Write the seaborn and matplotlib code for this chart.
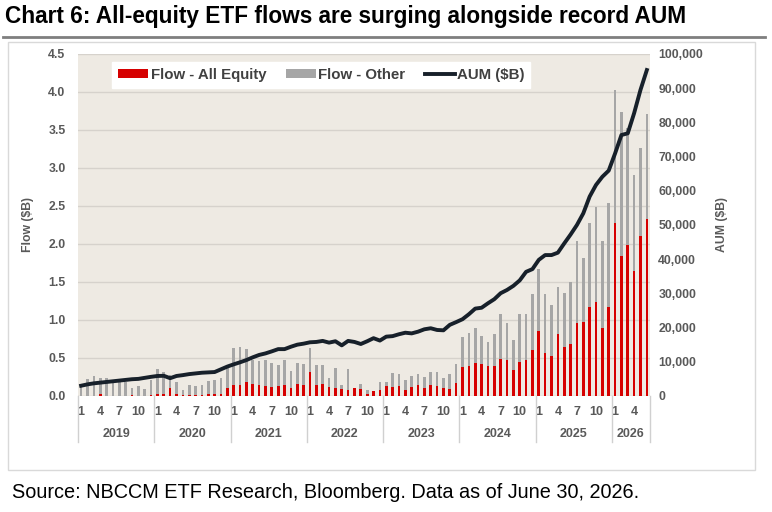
import numpy as np
import pandas as pd
import seaborn as sns
import matplotlib.pyplot as plt
from matplotlib.patches import Patch, Rectangle
from matplotlib.lines import Line2D
import matplotlib.transforms as mtransforms

# monthly data, Jan 2019 - Jun 2026
years = [2019, 2020, 2021, 2022, 2023, 2024, 2025, 2026]
month_labels = [1, 4, 7, 10]

# top of the stacked bar (all equity + other), $B
flow_total = [
    0.12, 0.22, 0.26, 0.23, 0.23, 0.18, 0.18, 0.19, 0.11, 0.13, 0.09, 0.21,
    0.36, 0.31, 0.27, 0.18, 0.08, 0.14, 0.13, 0.14, 0.20, 0.21, 0.24, 0.41,
    0.63, 0.65, 0.62, 0.47, 0.46, 0.47, 0.44, 0.41, 0.47, 0.33, 0.43, 0.42,
    0.63, 0.41, 0.41, 0.24, 0.37, 0.14, 0.35, 0.10, 0.16, 0.08, 0.07, 0.19,
    0.18, 0.30, 0.29, 0.21, 0.26, 0.29, 0.25, 0.31, 0.31, 0.24, 0.29, 0.42,
    0.78, 0.83, 0.89, 0.79, 0.71, 0.81, 1.08, 0.96, 0.73, 1.08, 1.08, 1.34,
    1.67, 1.34, 1.20, 1.44, 1.36, 1.50, 2.04, 1.82, 2.27, 2.49, 2.04, 2.54,
    4.02, 3.73, 3.53, 2.91, 3.26, 3.71,
]
flow_equity = [
    0.00, 0.00, 0.00, 0.02, 0.00, 0.00, 0.00, 0.00, 0.01, 0.00, 0.00, 0.01,
    0.03, 0.02, 0.10, 0.02, 0.01, 0.01, 0.01, 0.01, 0.02, 0.02, 0.03, 0.10,
    0.14, 0.14, 0.18, 0.16, 0.14, 0.13, 0.12, 0.13, 0.14, 0.10, 0.16, 0.14,
    0.31, 0.15, 0.16, 0.12, 0.11, 0.09, 0.08, 0.10, 0.09, 0.02, 0.07, 0.08,
    0.13, 0.12, 0.13, 0.08, 0.12, 0.14, 0.10, 0.14, 0.13, 0.10, 0.09, 0.17,
    0.38, 0.39, 0.44, 0.42, 0.39, 0.40, 0.49, 0.47, 0.34, 0.45, 0.47, 0.60,
    0.85, 0.57, 0.52, 0.81, 0.65, 0.69, 0.96, 0.97, 1.17, 1.23, 0.90, 1.17,
    2.28, 1.84, 1.99, 1.64, 2.10, 2.33,
]
aum = [
    3000, 3400, 3700, 3900, 4100, 4300, 4500, 4700, 4900, 5000, 5300, 5600,
    5850, 5900, 5200, 5850, 6100, 6400, 6600, 6800, 6900, 7000, 7800, 8600,
    9250, 9850, 10500, 11300, 12000, 12450, 13050, 13700, 13700, 14400, 15000, 15300,
    15700, 15800, 16100, 15600, 16000, 14800, 16100, 15800, 15200, 16000, 16900, 16200,
    17350, 17500, 18050, 18500, 18300, 18800, 19500, 19800, 19300, 19200, 20800, 21600,
    22450, 23900, 25550, 25800, 27100, 28300, 30050, 31000, 32200, 33800, 36300, 37100,
    39800, 41200, 41200, 41900, 44600, 47200, 50000, 53400, 58300, 61700, 64100, 65900,
    70900, 76300, 76800, 82700, 89500, 95300,
]

n = len(flow_total)
months = [(i % 12) + 1 for i in range(n)]
df = pd.DataFrame({"idx": range(n), "month": months, "total": flow_total,
                   "equity": flow_equity, "aum": aum})

RED = "#D60000"
GRAY = "#A6A6A6"
LINE = "#17202A"
TXT = "#595959"

plt.rcParams["font.family"] = ["Liberation Sans", "DejaVu Sans"]

fig = plt.figure(figsize=(7.72, 5.12), dpi=100)
ax = fig.add_axes([0.101, 0.2266, 0.741, 0.668])
ax.set_facecolor("#EEEAE3")

sns.barplot(data=df, x="idx", y="total", color=GRAY, saturation=1, width=0.42, ax=ax)
sns.barplot(data=df, x="idx", y="equity", color=RED, saturation=1, width=0.42, ax=ax)

ax2 = ax.twinx()
sns.lineplot(data=df, x="idx", y="aum", color=LINE, lw=2.8, ax=ax2)

ax.set_xlim(-0.5, n - 0.5)
ax.set_ylim(0, 4.5)
ax.set_yticks(np.arange(0, 4.51, 0.5))
ax.set_yticklabels([f"{v:.1f}" for v in np.arange(0, 4.51, 0.5)])
ax2.set_ylim(0, 100000)
ax2.set_yticks(range(0, 100001, 10000))
ax2.set_yticklabels([f"{v:,}" for v in range(0, 100001, 10000)])

ax.yaxis.grid(True, color="#D6D2CC", lw=1)
ax.set_axisbelow(True)
for a in (ax, ax2):
    for s in a.spines.values():
        s.set_visible(False)
    a.tick_params(axis="y", length=0, labelsize=8.8, labelcolor=TXT)

tick_pos = [i for i in range(n) if months[i] in month_labels]
ax.set_xticks(tick_pos)
ax.set_xticklabels([str(months[i]) for i in tick_pos])
ax.tick_params(axis="x", length=0, labelsize=9, labelcolor=TXT, pad=7)
for lab in ax.get_xticklabels() + ax.get_yticklabels() + ax2.get_yticklabels():
    lab.set_fontweight("bold")

ax.set_xlabel("")
ax.set_ylabel("Flow ($B)", fontsize=8.8, fontweight="bold", color=TXT, labelpad=10)
ax2.set_ylabel("AUM ($B)", fontsize=8.8, fontweight="bold", color=TXT, labelpad=9)
ax.tick_params(axis="y", pad=9)
ax2.tick_params(axis="y", pad=6)

# year row under the month labels
trans = mtransforms.blended_transform_factory(ax.transData, ax.transAxes)
for k, yr in enumerate(years):
    start = k * 12
    end = min(start + 12, n)
    ax.text((start + end - 1) / 2, -0.112, str(yr), transform=trans, ha="center",
            va="center", fontsize=9, fontweight="bold", color=TXT)
    ax.plot([start - 0.5, start - 0.5], [0, -0.135], transform=trans, color="#D0D0D0",
            lw=1, clip_on=False)
ax.plot([n - 0.5, n - 0.5], [0, -0.135], transform=trans, color="#D0D0D0", lw=1, clip_on=False)

handles = [Patch(facecolor=RED, edgecolor="none", label="Flow - All Equity"),
           Patch(facecolor=GRAY, edgecolor="none", label="Flow - Other"),
           Line2D([0], [0], color=LINE, lw=2.8, label="AUM ($B)")]
leg = ax2.legend(handles=handles, loc="upper left", bbox_to_anchor=(0.06, 0.977), ncol=3,
                 borderaxespad=0, frameon=True, fancybox=False, framealpha=1,
                 edgecolor="white", facecolor="white", borderpad=0.4, handlelength=2.0,
                 handleheight=0.6, handletextpad=0.15, columnspacing=1.3,
                 prop={"weight": "bold", "size": 10.8})
for t in leg.get_texts():
    t.set_color("#404040")

fig.text(0.006, 0.968, "Chart 6: All-equity ETF flows are surging alongside record AUM",
         fontsize=16.3, fontweight="bold", va="center", ha="left")
fig.add_artist(Line2D([3 / 772, 765 / 772], [1 - 37 / 512, 1 - 37 / 512], color="#7F7F7F", lw=2))
fig.add_artist(Rectangle((8 / 772, 1 - 470 / 512), 747 / 772, 428 / 512, fill=False,
                         edgecolor="#D9D9D9", lw=1))
fig.text(12 / 772, 1 - 492 / 512, "Source: NBCCM ETF Research, Bloomberg. Data as of June 30, 2026.",
         fontsize=14.3, va="center", ha="left", color="black")

fig.savefig("out.png", dpi=100)
